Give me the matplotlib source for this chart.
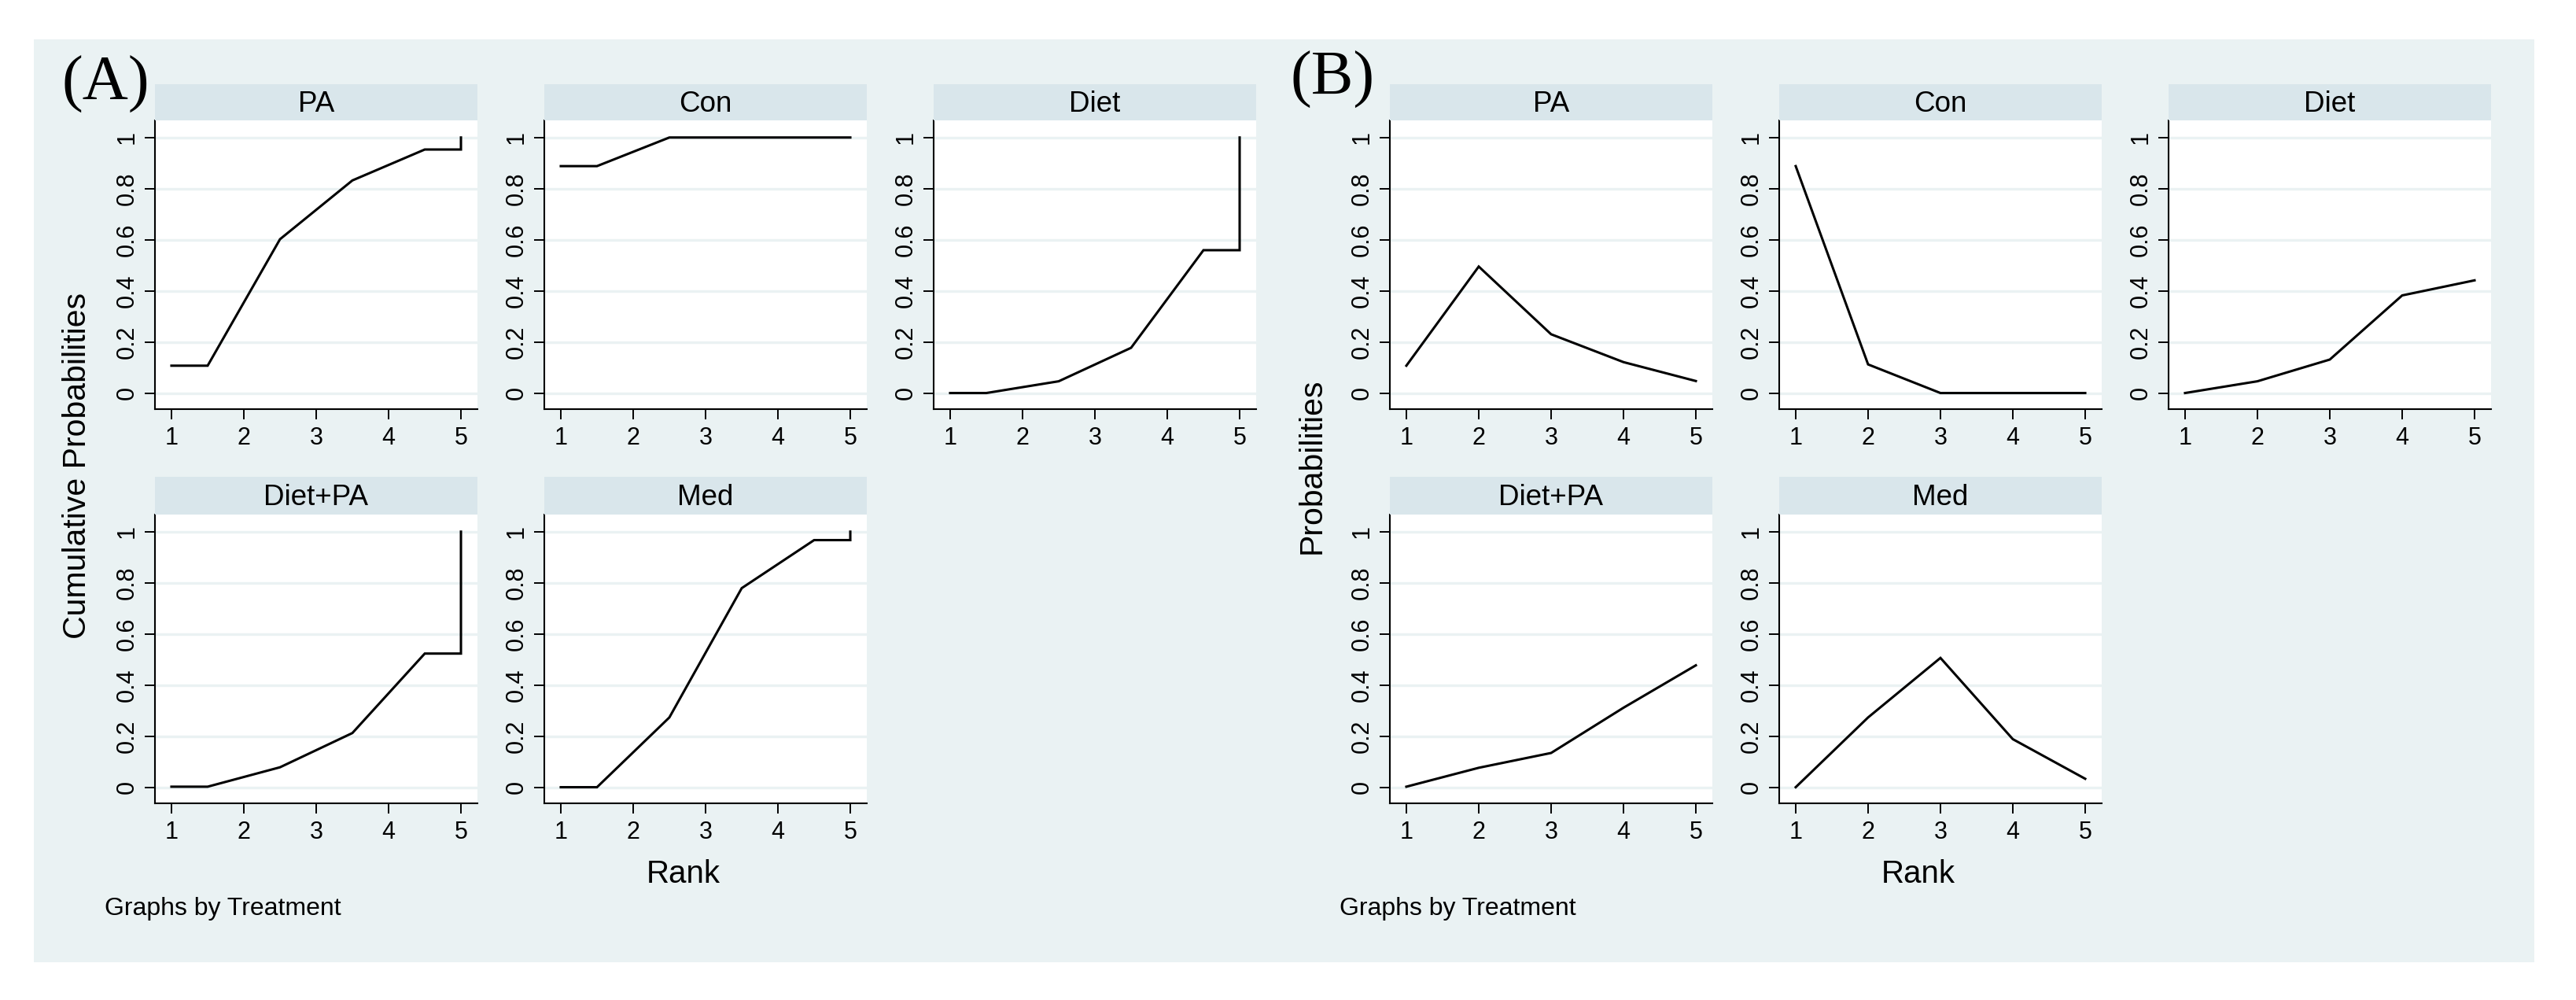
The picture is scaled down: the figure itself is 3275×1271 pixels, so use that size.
import numpy as np
import matplotlib
matplotlib.use("Agg")
import matplotlib.pyplot as plt
from matplotlib.patches import Rectangle

# data (rank probabilities per treatment)
treatments = ['PA', 'Con', 'Diet', 'Diet+PA', 'Med']
ranks = [1, 2, 3, 4, 5]
prob_pa = [0.107, 0.495, 0.230, 0.121, 0.047]
prob_con = [0.888, 0.112, 0.0, 0.0, 0.0]
prob_diet = [0.0, 0.046, 0.131, 0.382, 0.441]
prob_dietpa = [0.002, 0.076, 0.134, 0.311, 0.477]
prob_med = [0.0, 0.273, 0.506, 0.188, 0.033]
yticks = [0, 0.2, 0.4, 0.6, 0.8, 1]
ytick_labels = ['0', '0.2', '0.4', '0.6', '0.8', '1']

probs = [prob_pa, prob_con, prob_diet, prob_dietpa, prob_med]

W, H = 3275, 1271
BG = '#EAF2F3'
STRIP = '#D9E6EB'
SANS = ['Liberation Sans', 'DejaVu Sans']
SERIF = ['Liberation Serif', 'DejaVu Serif']

plt.rcParams['font.family'] = SANS

fig = plt.figure(figsize=(W / 100, H / 100), dpi=100)
fig.patch.set_facecolor('white')


def fx(x):
    return x / W


def fy(y):
    return 1 - y / H


fig.add_artist(Rectangle((fx(43), fy(1223)), fx(3222 - 43), (1223 - 50) / H,
                         transform=fig.transFigure, facecolor=BG,
                         edgecolor='none', zorder=-10))

col_step = 495
pw = 410
rows = [(107, 153, 520), (606, 654, 1021)]


def cumulative_xy(p):
    c = np.cumsum(p)
    r = np.array(ranks, dtype=float)
    mids = r[:-1] + 0.5
    xs = np.concatenate([[r[0]], mids, [r[-1], r[-1]]])
    ys = np.concatenate([[c[0]], c[:-1], [c[-2], c[-1]]])
    return xs, ys


def draw_panel(x0, cumulative, letter, letter_dx, letter_base, ylabel):
    for i, name in enumerate(treatments):
        row, col = divmod(i, 3)
        st, top, bot = rows[row]
        left = x0 + col * col_step
        ax = fig.add_axes([fx(left), fy(bot), pw / W, (bot - top) / H])
        ax.set_facecolor('white')
        for y in yticks:
            ax.axhline(y, color=BG, lw=2.4, zorder=1)
        if cumulative:
            xs, ys = cumulative_xy(probs[i])
        else:
            xs, ys = ranks, probs[i]
        ax.plot(xs, ys, color='black', lw=2.2, zorder=3,
                solid_joinstyle='miter')
        ax.set_xlim(0.772, 5.228)
        ax.set_ylim(-0.063, 1.067)
        ax.set_xticks(ranks)
        ax.set_xticklabels([str(r) for r in ranks], fontsize=22)
        ax.set_yticks(yticks)
        ax.set_yticklabels(ytick_labels, fontsize=22, rotation=90, va='center')
        ax.tick_params(axis='x', length=9.4, width=1.4, pad=6.5)
        ax.tick_params(axis='y', length=9.4, width=1.4, pad=5)
        for s in ['top', 'right']:
            ax.spines[s].set_visible(False)
        for s in ['left', 'bottom']:
            ax.spines[s].set_linewidth(1.5)
        # strip title
        sax = fig.add_axes([fx(left), fy(top), pw / W, (top - st) / H])
        sax.set_facecolor(STRIP)
        sax.set_xticks([])
        sax.set_yticks([])
        for s in sax.spines.values():
            s.set_visible(False)
        sax.text(0.5, 0.45, name, ha='center', va='center', fontsize=26.5,
                 transform=sax.transAxes)

    fig.text(fx(x0 - 99), fy(592), ylabel, rotation=90, ha='center',
             va='center', fontsize=29.5)
    fig.text(fx(x0 + 672), fy(1122), 'Rank', ha='center', va='baseline',
             fontsize=29)
    fig.text(fx(x0 - 64), fy(1163), 'Graphs by Treatment', ha='left',
             va='baseline', fontsize=23)
    fig.text(fx(x0 + letter_dx), fy(letter_base), letter, ha='left',
             va='baseline', fontsize=58, family=SERIF)


draw_panel(197, True, '(A)', -119, 127, 'Cumulative Probabilities')
draw_panel(1767, False, '(B)', -127, 121, 'Probabilities')

fig.savefig('out.png', dpi=100, facecolor='white')
